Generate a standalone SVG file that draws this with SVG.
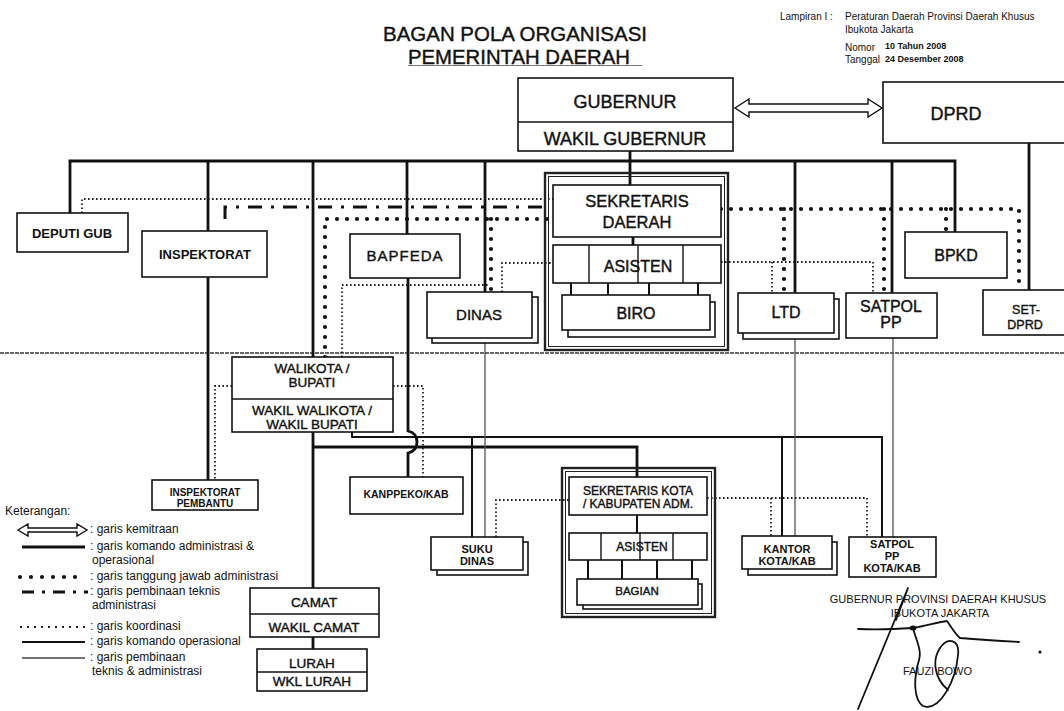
<svg xmlns="http://www.w3.org/2000/svg" width="1064" height="711" viewBox="0 0 1064 711">
<style>
text{font-family:"Liberation Sans",Arial,sans-serif;fill:#111}
.m{text-anchor:middle}
.b{font-weight:bold}
.h{stroke:#111;stroke-width:0.4}
.box{fill:#fff;stroke:#111;stroke-width:1.6}
.frame{fill:none;stroke:#222;stroke-width:2.4}
.frame2{fill:none;stroke:#222;stroke-width:1}
.div{stroke:#111;stroke-width:1.4}
.thick{fill:none;stroke:#111;stroke-width:2.8}
.med{fill:none;stroke:#111;stroke-width:2}
.thin{fill:none;stroke:#555;stroke-width:1.3}
.bigdot{fill:none;stroke:#111;stroke-width:4.2;stroke-linecap:round;stroke-dasharray:0 10}
.dot{fill:none;stroke:#222;stroke-width:1.8;stroke-dasharray:1.6 2.4}
.dashdot{fill:none;stroke:#111;stroke-width:3;stroke-dasharray:14 9 3 9}
.sep{fill:none;stroke:#333;stroke-width:1.6;stroke-dasharray:4 1}
.arrow{fill:#fff;stroke:#111;stroke-width:1.4}
.sig{fill:none;stroke:#111;stroke-width:1.8;stroke-linecap:round;stroke-linejoin:round}
</style>

<g id="header">
<text class="h" x="383" y="41" font-size="20" textLength="264" lengthAdjust="spacingAndGlyphs">BAGAN POLA ORGANISASI</text>
<text class="h" x="408" y="64" font-size="20" textLength="222" lengthAdjust="spacingAndGlyphs">PEMERINTAH DAERAH</text>
<line x1="408" y1="65.5" x2="642" y2="65.5" stroke="#777" stroke-width="1"/>
<text x="780" y="20" font-size="10">Lampiran  I :</text>
<text x="845" y="20" font-size="10">Peraturan Daerah Provinsi Daerah Khusus</text>
<text x="845" y="33" font-size="10">Ibukota Jakarta</text>
<text x="845" y="51" font-size="10">Nomor</text>
<text x="885" y="49" font-size="9" class="b">10  Tahun 2008</text>
<text x="845" y="63" font-size="10">Tanggal</text>
<text x="885" y="62" font-size="9" class="b">24 Desember 2008</text>
</g>

<g id="connectors">
<path class="sep" d="M0,353 H1064"/>
<path class="thick" d="M70,213 V161 H955 V232"/>
<path class="thick" d="M208,161 V480"/>
<path class="thick" d="M313,161 V588 M313,637 V649"/>
<path class="thick" d="M407,161 V278"/>
<path class="thick" d="M408,278 V431 Q417,433 417,442 Q417,451 408,453 V477"/>
<path class="thick" d="M485,161 V292"/>
<path class="thick" d="M630,151 V185 M633,237 V245"/>
<path class="thick" d="M795,161 V293"/>
<path class="thick" d="M892,161 V293"/>
<path class="thick" d="M1029,143 V290"/>
<path class="thick" d="M313,447 H637 V477"/>
<path class="med" d="M571,283 V295 M608,283 V295 M649,283 V295 M698,283 V295"/>
<path class="med" d="M352,432 V437 H882 V537"/>
<path class="med" d="M472,437 V537 M782,437 V536"/>
<path class="med" d="M637,515 V533"/>
<path class="med" d="M588,560 V579 M622,560 V579 M657,560 V579 M692,560 V579"/>
<path class="thin" d="M485,343 V537 M795,339 V536 M893,338 V537"/>
<path class="bigdot" d="M325,357 V219 H553"/>
<path class="bigdot" d="M491,219 V292"/>
<path class="bigdot" d="M721,209 H1019 V290"/>
<path class="bigdot" d="M784,209 V293 M884,209 V293 M946,209 V232"/>
<path class="dashdot" d="M225,219 V207 H548"/>
<path class="dot" d="M82,213 V199 H553"/>
<path class="dot" d="M342,357 V285 H488"/>
<path class="dot" d="M502,292 V263 H553"/>
<path class="dot" d="M721,262 H873 V293 M772,262 V293"/>
<path class="dot" d="M232,386 H215 V480"/>
<path class="dot" d="M393,386 H423 V477"/>
<path class="dot" d="M496,537 V500 H569"/>
<path class="dot" d="M707,498 H867 V537 M771,498 V536"/>
<polygon class="arrow" points="735,108 749,99 749,104 868,104 868,99 882,108 868,117 868,112 749,112 749,117"/>
</g>

<g id="gubernur">
<rect class="box" x="518" y="78" width="215" height="73"/>
<line class="div" x1="518" y1="122" x2="733" y2="122"/>
<text class="m h" x="625" y="108" font-size="18">GUBERNUR</text>
<text class="m h" x="625" y="145" font-size="18">WAKIL GUBERNUR</text>
</g>
<g id="dprd">
<rect class="box" x="883" y="82" width="190" height="61"/>
<text class="m h" x="956" y="120" font-size="18">DPRD</text>
</g>
<g id="deputi-gub">
<rect class="box" x="17" y="213" width="111" height="39"/>
<text class="m b" x="72" y="238" font-size="13">DEPUTI GUB</text>
</g>
<g id="inspektorat">
<rect class="box" x="142" y="231" width="125" height="46"/>
<text class="m b" x="205" y="259" font-size="13">INSPEKTORAT</text>
</g>
<g id="bapfeda">
<rect class="box" x="350" y="234" width="110" height="44"/>
<text class="m h" x="405" y="261" font-size="15" letter-spacing="1">BAPFEDA</text>
</g>
<g id="dinas">
<rect class="box" x="432" y="297" width="106" height="46"/>
<rect class="box" x="427" y="292" width="105" height="46"/>
<text class="m h" x="479" y="320" font-size="15">DINAS</text>
</g>
<g id="sekretariat-daerah">
<rect class="frame" x="545" y="173" width="183" height="177"/>
<rect class="frame2" x="548.5" y="176.5" width="176" height="170"/>
<rect class="box" x="553" y="185" width="168" height="52"/>
<text class="m h" x="637" y="207" font-size="16.5">SEKRETARIS</text>
<text class="m h" x="637" y="228" font-size="16.5">DAERAH</text>
<rect class="box" x="553" y="245" width="168" height="38"/>
<line class="div" x1="589" y1="245" x2="589" y2="283"/>
<line class="div" x1="638" y1="245" x2="638" y2="283"/>
<line class="div" x1="683" y1="245" x2="683" y2="283"/>
<text class="m h" x="638" y="272" font-size="16">ASISTEN</text>
<rect class="box" x="568" y="302" width="147" height="35"/>
<rect class="box" x="562" y="295" width="148" height="35"/>
<text class="m h" x="636" y="319" font-size="16">BIRO</text>
</g>
<g id="ltd">
<rect class="box" x="743" y="299" width="96" height="40"/>
<rect class="box" x="738" y="293" width="96" height="40"/>
<text class="m h" x="786" y="318" font-size="16">LTD</text>
</g>
<g id="satpol-pp">
<rect class="box" x="846" y="293" width="91" height="45"/>
<text class="m h" x="891" y="312" font-size="16">SATPOL</text>
<text class="m h" x="891" y="328" font-size="16">PP</text>
</g>
<g id="bpkd">
<rect class="box" x="905" y="232" width="102" height="46"/>
<text class="m h" x="956" y="261" font-size="16">BPKD</text>
</g>
<g id="set-dprd">
<rect class="box" x="983" y="290" width="90" height="45"/>
<text class="m h" x="1026" y="314" font-size="12.5">SET-</text>
<text class="m h" x="1025" y="329" font-size="12.5">DPRD</text>
</g>
<g id="walikota">
<rect class="box" x="232" y="357" width="161" height="75"/>
<line class="div" x1="232" y1="399" x2="393" y2="399"/>
<text class="m h" x="312" y="373" font-size="13.5">WALIKOTA /</text>
<text class="m h" x="312" y="387" font-size="13.5">BUPATI</text>
<text class="m h" x="312" y="415" font-size="13.5">WAKIL WALIKOTA /</text>
<text class="m h" x="312" y="429" font-size="13.5">WAKIL BUPATI</text>
</g>
<g id="inspektorat-pembantu">
<rect class="box" x="152" y="480" width="106" height="30"/>
<text class="m b" x="205" y="496" font-size="10">INSPEKTORAT</text>
<text class="m b" x="205" y="507" font-size="10">PEMBANTU</text>
</g>
<g id="kanppeko">
<rect class="box" x="350" y="477" width="113" height="37"/>
<text class="m b" x="406" y="498" font-size="10.5">KANPPEKO/KAB</text>
</g>
<g id="suku-dinas">
<rect class="box" x="437" y="542" width="91" height="33"/>
<rect class="box" x="431" y="537" width="92" height="33"/>
<text class="m b" x="477" y="553" font-size="11">SUKU</text>
<text class="m b" x="477" y="565" font-size="11">DINAS</text>
</g>
<g id="sekretariat-kota">
<rect class="frame" x="562" y="468" width="153" height="149"/>
<rect class="frame2" x="565.5" y="471.5" width="146" height="142"/>
<rect class="box" x="569" y="477" width="138" height="38"/>
<text class="m h" x="638" y="495" font-size="12">SEKRETARIS KOTA</text>
<text class="m h" x="638" y="508" font-size="12">/ KABUPATEN ADM.</text>
<rect class="box" x="569" y="533" width="138" height="27"/>
<line class="div" x1="601" y1="533" x2="601" y2="560"/>
<line class="div" x1="640" y1="533" x2="640" y2="560"/>
<line class="div" x1="673" y1="533" x2="673" y2="560"/>
<text class="m h" x="642" y="551" font-size="12">ASISTEN</text>
<rect class="box" x="583" y="584" width="119" height="25"/>
<rect class="box" x="577" y="579" width="121" height="26"/>
<text class="m h" x="637" y="595" font-size="11.5">BAGIAN</text>
</g>
<g id="kantor-kota">
<rect class="box" x="748" y="542" width="89" height="33"/>
<rect class="box" x="742" y="536" width="90" height="33"/>
<text class="m b" x="787" y="553" font-size="11">KANTOR</text>
<text class="m b" x="787" y="565" font-size="11">KOTA/KAB</text>
</g>
<g id="satpol-kota">
<rect class="box" x="849" y="537" width="87" height="40"/>
<text class="m b" x="892" y="548" font-size="11">SATPOL</text>
<text class="m b" x="892" y="560" font-size="11">PP</text>
<text class="m b" x="892" y="572" font-size="11">KOTA/KAB</text>
</g>
<g id="camat">
<rect class="box" x="250" y="588" width="129" height="49"/>
<line class="div" x1="250" y1="614" x2="379" y2="614"/>
<text class="m h" x="314" y="607" font-size="13.5">CAMAT</text>
<text class="m h" x="314" y="632" font-size="13.5">WAKIL CAMAT</text>
</g>
<g id="lurah">
<rect class="box" x="257" y="649" width="110" height="42"/>
<line class="div" x1="257" y1="672" x2="367" y2="672"/>
<text class="m h" x="312" y="668" font-size="13.5">LURAH</text>
<text class="m h" x="312" y="686" font-size="13.5">WKL LURAH</text>
</g>

<g id="legend">
<text x="5" y="515" font-size="12">Keterangan:</text>
<polygon class="arrow" points="18,530 28,524 28,528 77,528 77,524 87,530 77,536 77,532 28,532 28,536"/>
<text x="90" y="533" font-size="12">: garis kemitraan</text>
<line x1="22" y1="547" x2="85" y2="547" stroke="#111" stroke-width="3"/>
<text x="90" y="550" font-size="12">: garis komando administrasi &amp;</text>
<text x="92" y="564" font-size="12">operasional</text>
<line class="bigdot" x1="20" y1="577" x2="86" y2="577" style="stroke-dasharray:0 11"/>
<text x="90" y="580" font-size="12">: garis tanggung jawab administrasi</text>
<line class="dashdot" x1="22" y1="592" x2="88" y2="592" style="stroke-dasharray:12 8 3 8"/>
<text x="90" y="595" font-size="12">: garis pembinaan teknis</text>
<text x="92" y="609" font-size="12">administrasi</text>
<line class="dot" x1="20" y1="627" x2="86" y2="627" style="stroke-dasharray:2 5"/>
<text x="90" y="630" font-size="12">: garis koordinasi</text>
<line x1="22" y1="642" x2="85" y2="642" stroke="#111" stroke-width="2"/>
<text x="90" y="645" font-size="12">: garis komando operasional</text>
<line x1="22" y1="658" x2="85" y2="658" stroke="#444" stroke-width="1.3"/>
<text x="90" y="661" font-size="12">: garis pembinaan</text>
<text x="92" y="675" font-size="12">teknis &amp; administrasi</text>
</g>

<g id="signature">
<text class="m" x="938" y="603" font-size="11">GUBERNUR PROVINSI DAERAH KHUSUS</text>
<text class="m" x="940" y="617" font-size="11">IBUKOTA JAKARTA</text>
<text x="903" y="675" font-size="11">FAUZI BOWO</text>
<path class="sig" d="M858,709 L908,588 L896,620"/>
<path class="sig" d="M858,629 C880,630 898,629 913,628 C926,626 938,622 947,621 C952,628 955,634 960,638 C985,640 1002,641 1019,642"/>
<path class="sig" d="M913,628 C916,640 922,650 919,660 C913,680 914,700 923,706 C940,712 956,680 958,655 C960,640 948,636 940,648 C932,660 934,678 948,690"/>
<ellipse cx="913" cy="628" rx="3.5" ry="2.5" fill="#111"/>
<circle cx="1040" cy="652" r="1.6" fill="#111"/>
</g>
</svg>
